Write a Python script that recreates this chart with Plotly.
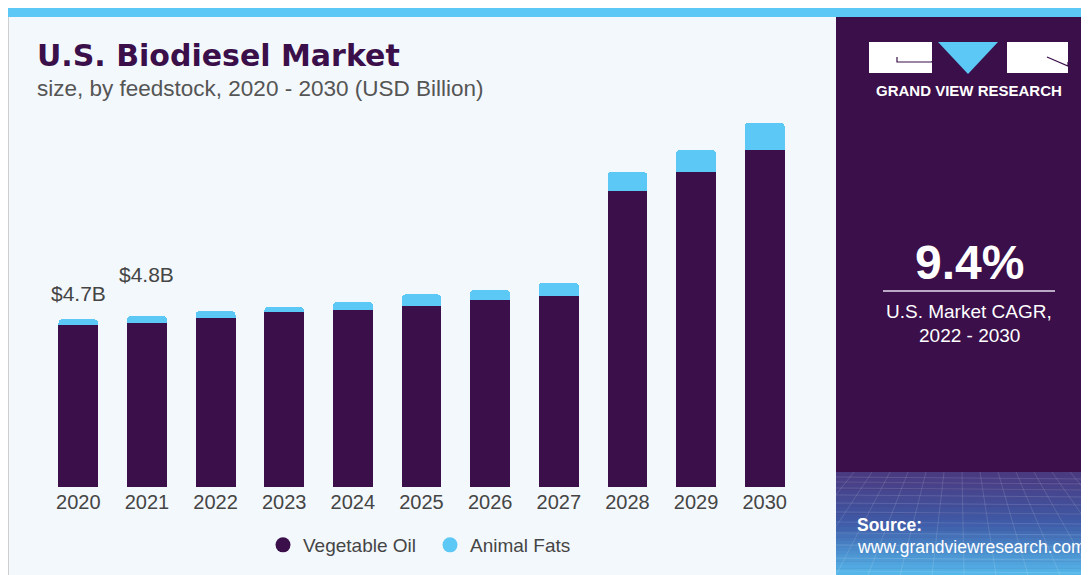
import plotly.graph_objects as go

# chart values (USD Billion)
years = ['2020', '2021', '2022', '2023', '2024', '2025', '2026', '2027', '2028', '2029', '2030']
vegetable_oil = [4.53, 4.61, 4.73, 4.90, 4.96, 5.08, 5.24, 5.35, 8.30, 8.83, 9.45]
animal_fats = [0.17, 0.19, 0.20, 0.15, 0.23, 0.32, 0.28, 0.38, 0.53, 0.62, 0.76]
label_years = ['2020', '2021']
label_text = ['$4.7B', '$4.8B']
series_names = ['Vegetable Oil', 'Animal Fats']

# the page body adds an 8px margin, so the figure is 8px smaller and offset
OFF = 8
W, H = 1089 - OFF, 575 - OFF
PURPLE = '#3a0f4a'
BLUE = '#5bc8f5'
GREY = '#454545'


def px_x(x):
    return (x - OFF) / W


def px_y(y):
    return 1 - (y - OFF) / H


def rect(x0, y0, x1, y1, color, **kw):
    return dict(type='rect', xref='paper', yref='paper', layer='below',
                x0=px_x(x0), x1=px_x(x1), y0=px_y(y0), y1=px_y(y1),
                fillcolor=color, line=dict(width=0), **kw)


def mix(c0, c1, t):
    a = [int(c0[i:i + 2], 16) for i in (1, 3, 5)]
    b = [int(c1[i:i + 2], 16) for i in (1, 3, 5)]
    return '#' + ''.join('%02x' % round(a[i] + (b[i] - a[i]) * t) for i in range(3))


def background_shapes():
    shapes = []
    # card outline, left panel, top strip
    shapes.append(rect(8, 8, 836, 575, '#f3f8fc'))
    shapes.append(dict(type='line', xref='paper', yref='paper', layer='below',
                       x0=px_x(8.5), x1=px_x(8.5), y0=0, y1=1, line=dict(color='#cfcfcf', width=1)))
    shapes.append(rect(8, 8, 1089, 17, BLUE))
    # right panel
    shapes.append(rect(836, 17, 1089, 575, PURPLE))
    # gradient band at the bottom of the right panel
    n = 30
    y_start, y_end = 472, 575
    for i in range(n):
        t = i / (n - 1)
        if t < 0.5:
            c = mix('#4a3a80', '#3f5ba8', t / 0.5)
        else:
            c = mix('#3f5ba8', '#55b6ea', (t - 0.5) / 0.5)
        ya = y_start + (y_end - y_start) * i / n
        yb = y_start + (y_end - y_start) * (i + 1) / n + 0.5
        shapes.append(rect(836, ya, 1089, yb, c))
    # faint perspective grid
    grid = dict(color='rgba(255,255,255,0.13)', width=1)
    for y in [477, 482, 488, 495, 503, 512, 522, 533, 545, 558, 571]:
        shapes.append(dict(type='line', xref='paper', yref='paper', layer='below',
                           x0=px_x(836), x1=1, y0=px_y(y), y1=px_y(y + 2), line=grid))
    for k in range(-6, 14):
        xt = 836 + k * 18
        xb = 836 + (k - 3) * 32
        shapes.append(dict(type='line', xref='paper', yref='paper', layer='below',
                           x0=px_x(xt), x1=px_x(xb), y0=px_y(472), y1=px_y(575), line=grid))
    # cover grid lines spilling onto the left panel
    shapes.append(rect(9, 470, 836, 575, '#f3f8fc'))
    # logo
    shapes.append(rect(869, 42, 932, 73, '#ffffff'))
    shapes.append(rect(1007, 42, 1068, 73, '#ffffff'))
    shapes.append(dict(type='path', xref='paper', yref='paper', layer='below',
                       path='M %f %f L %f %f L %f %f Z' % (px_x(938), px_y(42), px_x(998), px_y(42), px_x(968), px_y(74)),
                       fillcolor=BLUE, line=dict(width=0)))
    shapes.append(dict(type='path', xref='paper', yref='paper', layer='below',
                       path='M %f %f L %f %f L %f %f L %f %f' % (px_x(897), px_y(57), px_x(897), px_y(62),
                                                                  px_x(932), px_y(62), px_x(932), px_y(61)),
                       line=dict(color=PURPLE, width=1.2)))
    shapes.append(dict(type='path', xref='paper', yref='paper', layer='below',
                       path='M %f %f L %f %f L %f %f' % (px_x(1047), px_y(57), px_x(1068), px_y(66),
                                                         px_x(1068), px_y(62)),
                       line=dict(color=PURPLE, width=1.2)))
    # CAGR divider
    shapes.append(dict(type='line', xref='paper', yref='paper', layer='below',
                       x0=px_x(883), x1=px_x(1055), y0=px_y(291), y1=px_y(291),
                       line=dict(color='#b9a9c4', width=2)))
    return shapes


fig = go.Figure()
fig.add_trace(go.Bar(x=years, y=vegetable_oil, name=series_names[0], marker=dict(color=PURPLE, line=dict(width=0)),
                     showlegend=False, hoverinfo='x+y'))
fig.add_trace(go.Bar(x=years, y=animal_fats, name=series_names[1], marker=dict(color=BLUE, line=dict(width=0)),
                     showlegend=False, hoverinfo='x+y'))
# legend entries drawn as round dots (points sit below the visible range)
for name, color in zip(series_names, [PURPLE, BLUE]):
    fig.add_trace(go.Scatter(x=[years[0]], y=[-5], mode='markers', name=name, hoverinfo='skip',
                             marker=dict(color=color, size=15, symbol='circle')))

annotations = []
shifts = [26, 41]
for yr, txt, sh in zip(label_years, label_text, shifts):
    i = years.index(yr)
    # category index, since a numeric-looking string is read as a position
    annotations.append(dict(x=i, y=vegetable_oil[i] + animal_fats[i], xref='x', yref='y', text=txt,
                            showarrow=False, yanchor='middle', yshift=sh,
                            font=dict(size=21, color=GREY, family='Liberation Sans, Arial')))

text_items = [
    dict(x=px_x(35), y=px_y(55), text='<b>U.S. Biodiesel Market</b>', xanchor='left',
         font=dict(size=30, color=PURPLE, family='DejaVu Sans')),
    dict(x=px_x(35), y=px_y(89), text='size, by feedstock, 2020 - 2030 (USD Billion)', xanchor='left',
         font=dict(size=22.5, color='#555555', family='Liberation Sans, Arial')),
    dict(x=px_x(969), y=px_y(90), text='<b>GRAND VIEW RESEARCH</b>', xanchor='center',
         font=dict(size=15, color='#ffffff', family='Liberation Sans, Arial')),
    dict(x=px_x(969), y=px_y(262), text='<b>9.4%</b>', xanchor='center',
         font=dict(size=48, color='#ffffff', family='Liberation Sans, Arial')),
    dict(x=px_x(969), y=px_y(311), text='U.S. Market CAGR,', xanchor='center',
         font=dict(size=19, color='#ffffff', family='Liberation Sans, Arial')),
    dict(x=px_x(969), y=px_y(335), text='2022 - 2030', xanchor='center',
         font=dict(size=19, color='#ffffff', family='Liberation Sans, Arial')),
    dict(x=px_x(855), y=px_y(525), text='<b>Source:</b>', xanchor='left',
         font=dict(size=17.5, color='#ffffff', family='Liberation Sans, Arial')),
    dict(x=px_x(855), y=px_y(547), text='www.grandviewresearch.com', xanchor='left',
         font=dict(size=17.5, color='#ffffff', family='Liberation Sans, Arial')),
]
for t in text_items:
    annotations.append(dict(xref='paper', yref='paper', showarrow=False, yanchor='middle', **t))

fig.update_layout(
    width=W, height=H,
    margin=dict(l=0, r=0, t=0, b=0, autoexpand=False),
    paper_bgcolor='#ffffff',
    plot_bgcolor='rgba(0,0,0,0)',
    barmode='stack',
    bargap=0.42,
    barcornerradius=4,
    font=dict(family='Liberation Sans, Arial', color=GREY),
    xaxis=dict(domain=[px_x(44), px_x(799)], type='category', categoryorder='array', categoryarray=years,
               range=[-0.5, len(years) - 0.5], automargin=False, showgrid=False, showline=False,
               zeroline=False, ticks='', tickfont=dict(size=20, color=GREY), ticklabelstandoff=1),
    yaxis=dict(domain=[px_y(487), px_y(100)], range=[0, 10.85], visible=False, automargin=False),
    legend=dict(orientation='h', x=px_x(430), y=px_y(545), xanchor='center', yanchor='middle',
                traceorder='normal', font=dict(size=19, color=GREY), bgcolor='rgba(0,0,0,0)',
                entrywidth=122, entrywidthmode='pixels'),
    shapes=background_shapes(),
    annotations=annotations,
)

fig.write_html("out.html")
